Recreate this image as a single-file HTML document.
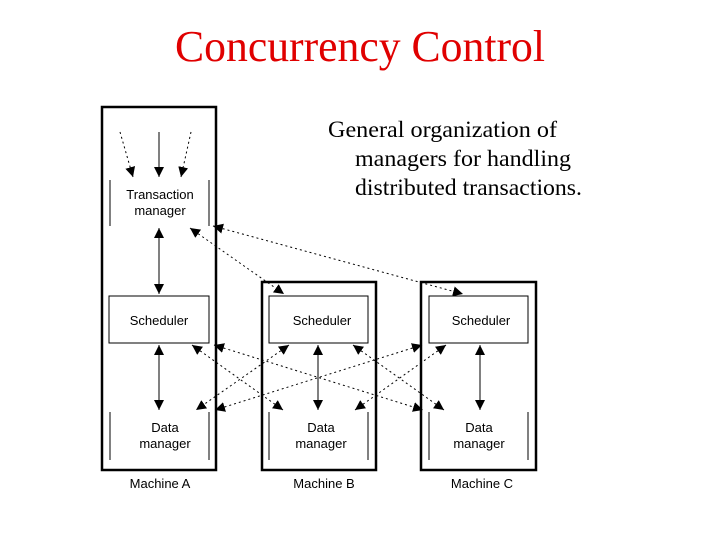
<!DOCTYPE html>
<html><head><style>body{margin:0;background:#fff}svg{display:block}</style></head><body>
<svg width="720" height="540" viewBox="0 0 720 540" xmlns="http://www.w3.org/2000/svg">
<defs>
<marker id="a" viewBox="0 0 10 10" refX="10" refY="5" markerWidth="10" markerHeight="10" markerUnits="userSpaceOnUse" orient="auto-start-reverse"><path d="M0,0L10,5L0,10z" fill="#000"/></marker>
</defs>
<text x="360" y="61" font-family="Liberation Serif,serif" font-size="44" fill="#e00000" text-anchor="middle" textLength="370" lengthAdjust="spacingAndGlyphs">Concurrency Control</text>
<g font-family="Liberation Serif,serif" font-size="23" fill="#000">
<text x="328" y="137" textLength="229" lengthAdjust="spacingAndGlyphs">General organization of</text>
<text x="355" y="166" textLength="216" lengthAdjust="spacingAndGlyphs">managers for handling</text>
<text x="355" y="195" textLength="227" lengthAdjust="spacingAndGlyphs">distributed transactions.</text>
</g>
<g fill="none" stroke="#000">
<rect x="102" y="107" width="114" height="363" stroke-width="2.5"/>
<rect x="262" y="282" width="114" height="188" stroke-width="2.5"/>
<rect x="421" y="282" width="115" height="188" stroke-width="2.5"/>
<g stroke-width="1">
<path d="M110,180V226M209,180V226M110,412V460M209,412V460M269,412V460M368,412V460M429,412V460M528,412V460"/>
<rect x="109" y="296" width="100" height="47"/>
<rect x="269" y="296" width="99" height="47"/>
<rect x="429" y="296" width="99" height="47"/>
<line x1="159" y1="132" x2="159" y2="177" marker-end="url(#a)"/>
<line x1="159" y1="228" x2="159" y2="294" marker-start="url(#a)" marker-end="url(#a)"/>
<line x1="159" y1="345" x2="159" y2="410" marker-start="url(#a)" marker-end="url(#a)"/>
<line x1="318" y1="345" x2="318" y2="410" marker-start="url(#a)" marker-end="url(#a)"/>
<line x1="480" y1="345" x2="480" y2="410" marker-start="url(#a)" marker-end="url(#a)"/>
</g>
<g stroke-width="1" stroke-dasharray="2,3">
<line x1="120" y1="132" x2="133" y2="177" marker-end="url(#a)"/>
<line x1="191" y1="132" x2="181" y2="177" marker-end="url(#a)"/>
<line x1="190" y1="228" x2="284" y2="294" marker-start="url(#a)" marker-end="url(#a)"/>
<line x1="213" y1="226" x2="463" y2="294" marker-start="url(#a)" marker-end="url(#a)"/>
<line x1="192" y1="345" x2="283" y2="410" marker-start="url(#a)" marker-end="url(#a)"/>
<line x1="214" y1="345" x2="423" y2="410" marker-start="url(#a)" marker-end="url(#a)"/>
<line x1="353" y1="345" x2="444" y2="410" marker-start="url(#a)" marker-end="url(#a)"/>
<line x1="289" y1="345" x2="196" y2="410" marker-start="url(#a)" marker-end="url(#a)"/>
<line x1="422" y1="345" x2="215" y2="410" marker-start="url(#a)" marker-end="url(#a)"/>
<line x1="446" y1="345" x2="355" y2="410" marker-start="url(#a)" marker-end="url(#a)"/>
</g>
</g>
<g font-family="Liberation Sans,sans-serif" font-size="13" fill="#000" text-anchor="middle">
<text x="160" y="199">Transaction</text><text x="160" y="215">manager</text>
<text x="159" y="325">Scheduler</text>
<text x="322" y="325">Scheduler</text>
<text x="481" y="325">Scheduler</text>
<text x="165" y="432">Data</text><text x="165" y="448">manager</text>
<text x="321" y="432">Data</text><text x="321" y="448">manager</text>
<text x="479" y="432">Data</text><text x="479" y="448">manager</text>
<text x="160" y="488">Machine A</text>
<text x="324" y="488">Machine B</text>
<text x="482" y="488">Machine C</text>
</g>
</svg>
</body></html>
